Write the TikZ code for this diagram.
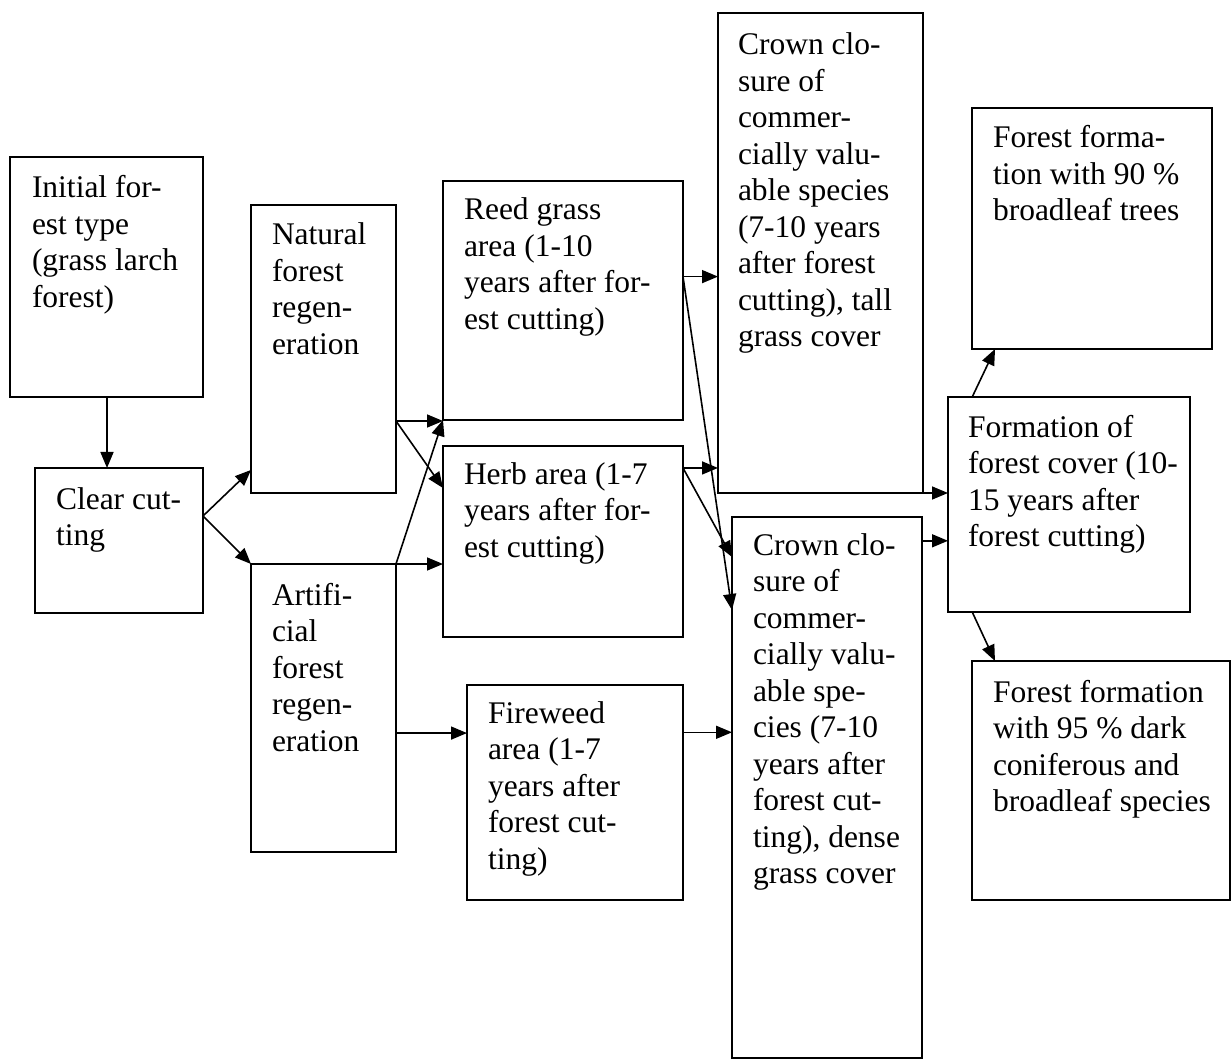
\documentclass[tikz,border=0pt]{standalone}
\usepackage{fontspec}
\setmainfont{Liberation Serif}
\usetikzlibrary{arrows.meta,calc}
\newcommand\fstrut{\rule{0pt}{25pt}}
\begin{document}
\begin{tikzpicture}[x=1pt,y=-1pt,
  box/.style={draw, line width=1.9pt, inner sep=0pt, outer sep=0pt, anchor=north west},
  txt/.style={inner sep=0pt, outer sep=0pt, anchor=north west, align=left,
    font=\fontsize{31.5}{36.5}\selectfont},
  arr/.style={line width=1.6pt, -{Triangle[length=16pt,width=13pt]}}]
\useasboundingbox (0,0) rectangle (1232,1064);
% boxes
\node[box, minimum width=193pt, minimum height=240pt] (init) at (10,157) {};
\node[box, minimum width=168pt, minimum height=145pt] (clear) at (35,468) {};
\node[box, minimum width=145pt, minimum height=288pt] (nat) at (251,205) {};
\node[box, minimum width=145pt, minimum height=288pt] (art) at (251,564) {};
\node[box, minimum width=240pt, minimum height=239pt] (reed) at (443,181) {};
\node[box, minimum width=240pt, minimum height=191pt] (herb) at (443,446) {};
\node[box, minimum width=216pt, minimum height=215pt] (fire) at (467,685) {};
\node[box, minimum width=205pt, minimum height=480pt] (crownA) at (718,13) {};
\node[box, minimum width=190pt, minimum height=541pt] (crownB) at (732,517) {};
\node[box, minimum width=240pt, minimum height=241pt] (f90) at (972,108) {};
\node[box, minimum width=242pt, minimum height=215pt] (form) at (948,397) {};
\node[box, minimum width=258pt, minimum height=239pt] (f95) at (972,661) {};
% texts
\node[txt] (init-t) at (32,173) {\fstrut Initial for-\\est type\\(grass larch\\forest)};
\node[txt] (clear-t) at (56,484) {\fstrut Clear cut-\\ting};
\node[txt] (nat-t) at (272,220) {\fstrut Natural\\forest\\regen-\\eration};
\node[txt] (art-t) at (272,580) {\fstrut Artifi-\\cial\\forest\\regen-\\eration};
\node[txt] (reed-t) at (464,195) {\fstrut Reed grass\\area (1-10\\years after for-\\est cutting)};
\node[txt] (herb-t) at (464,459) {\fstrut Herb area (1-7\\years after for-\\est cutting)};
\node[txt] (fire-t) at (488,698) {\fstrut Fireweed\\area (1-7\\years after\\forest cut-\\ting)};
\node[txt] (crownA-t) at (738,30) {\fstrut Crown clo-\\sure of\\commer-\\cially valu-\\able species\\(7-10 years\\after forest\\cutting), tall\\grass cover};
\node[txt] (crownB-t) at (753,530) {\fstrut Crown clo-\\sure of\\commer-\\cially valu-\\able spe-\\cies (7-10\\years after\\forest cut-\\ting), dense\\grass cover};
\node[txt] (f90-t) at (993,123) {\fstrut Forest forma-\\tion with 90 \%\\broadleaf trees};
\node[txt] (form-t) at (968,412) {\fstrut Formation of\\forest cover (10-\\15 years after\\forest cutting)};
\node[txt] (f95-t) at (993,677) {\fstrut Forest formation\\with 95 \% dark\\coniferous and\\broadleaf species};
% connection points
\coordinate (cl) at ($(clear.north east)!0.331!(clear.south east)$);
\coordinate (ns) at ($(nat.north east)!0.75!(nat.south east)$);
\coordinate (as) at ($(art.north east)!0.587!(art.south east)$);
\coordinate (rs) at ($(reed.north east)!0.40!(reed.south east)$);
\coordinate (hs) at ($(herb.north east)!0.115!(herb.south east)$);
\coordinate (fs) at ($(fire.north east)!0.22!(fire.south east)$);
\coordinate (bs) at ($(crownB.north east)!0.044!(crownB.south east)$);
% connectors
\draw[arr] (init.south -| 107,0) -- (107,0 |- clear.north);
\draw[arr] (cl) -- ($(nat.north west)!0.92!(nat.south west)$);
\draw[arr] (cl) -- (art.north west);
\draw[arr] (ns) -- (ns -| reed.west);
\draw[arr] (ns) -- ($(herb.north west)!0.22!(herb.south west)$);
\draw[arr] (art.north east) -- (art.north east -| herb.west);
\draw[arr] (art.north east) -- (reed.south west);
\draw[arr] (as) -- (as -| fire.west);
\draw[arr] (rs) -- (rs -| crownA.west);
\draw[arr] (rs) -- ($(crownB.north west)!0.172!(crownB.south west)$);
\draw[arr] (hs) -- (hs -| crownA.west);
\draw[arr] (hs) -- ($(crownB.north west)!0.074!(crownB.south west)$);
\draw[arr] (fs) -- (fs -| crownB.west);
\draw[arr] (crownA.south east) -- (crownA.south east -| form.west);
\draw[arr] (bs) -- (bs -| form.west);
\draw[arr] ($(form.north west)!0.1!(form.north east)$) -- ($(f90.south west)!0.096!(f90.south east)$);
\draw[arr] ($(form.south west)!0.1!(form.south east)$) -- ($(f95.north west)!0.089!(f95.north east)$);
\end{tikzpicture}
\end{document}
